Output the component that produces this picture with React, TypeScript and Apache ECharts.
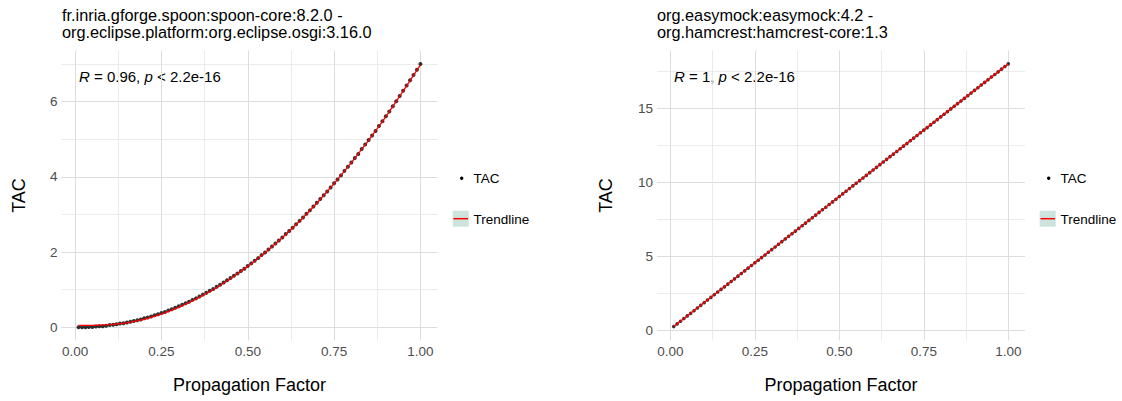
import { useEffect, useRef } from "react";
import * as echarts from "echarts";

// Propagation factor sampled for every dependency pair
const propagation = [
  0.01, 0.02, 0.03, 0.04, 0.05, 0.06, 0.07, 0.08, 0.09, 0.1,
  0.11, 0.12, 0.13, 0.14, 0.15, 0.16, 0.17, 0.18, 0.19, 0.2,
  0.21, 0.22, 0.23, 0.24, 0.25, 0.26, 0.27, 0.28, 0.29, 0.3,
  0.31, 0.32, 0.33, 0.34, 0.35, 0.36, 0.37, 0.38, 0.39, 0.4,
  0.41, 0.42, 0.43, 0.44, 0.45, 0.46, 0.47, 0.48, 0.49, 0.5,
  0.51, 0.52, 0.53, 0.54, 0.55, 0.56, 0.57, 0.58, 0.59, 0.6,
  0.61, 0.62, 0.63, 0.64, 0.65, 0.66, 0.67, 0.68, 0.69, 0.7,
  0.71, 0.72, 0.73, 0.74, 0.75, 0.76, 0.77, 0.78, 0.79, 0.8,
  0.81, 0.82, 0.83, 0.84, 0.85, 0.86, 0.87, 0.88, 0.89, 0.9,
  0.91, 0.92, 0.93, 0.94, 0.95, 0.96, 0.97, 0.98, 0.99, 1.0,
];

// TAC for spoon-core -> org.eclipse.osgi
const tacSpoon = [
  0.0, 0.0, 0.0, 0.01, 0.01, 0.02, 0.03, 0.03, 0.04, 0.06,
  0.07, 0.08, 0.1, 0.11, 0.13, 0.15, 0.17, 0.19, 0.21, 0.24,
  0.26, 0.29, 0.32, 0.35, 0.38, 0.41, 0.45, 0.48, 0.52, 0.56,
  0.6, 0.64, 0.68, 0.73, 0.77, 0.82, 0.87, 0.92, 0.97, 1.02,
  1.08, 1.13, 1.19, 1.25, 1.31, 1.37, 1.43, 1.5, 1.56, 1.63,
  1.7, 1.77, 1.84, 1.92, 1.99, 2.07, 2.15, 2.23, 2.31, 2.39,
  2.48, 2.56, 2.65, 2.74, 2.83, 2.92, 3.02, 3.11, 3.21, 3.31,
  3.41, 3.51, 3.61, 3.72, 3.83, 3.93, 4.04, 4.16, 4.27, 4.38,
  4.5, 4.61, 4.74, 4.86, 4.98, 5.1, 5.22, 5.35, 5.48, 5.61,
  5.74, 5.88, 6.01, 6.15, 6.29, 6.43, 6.57, 6.71, 6.85, 7.0,
];

// TAC for easymock -> hamcrest-core
const tacEasymock = [
  0.28, 0.46, 0.64, 0.82, 1.0, 1.17, 1.35, 1.53, 1.71, 1.89,
  2.07, 2.25, 2.43, 2.61, 2.79, 2.96, 3.14, 3.32, 3.5, 3.68,
  3.86, 4.04, 4.22, 4.4, 4.58, 4.75, 4.93, 5.11, 5.29, 5.47,
  5.65, 5.83, 6.01, 6.19, 6.37, 6.54, 6.72, 6.9, 7.08, 7.26,
  7.44, 7.62, 7.8, 7.98, 8.16, 8.33, 8.51, 8.69, 8.87, 9.05,
  9.23, 9.41, 9.59, 9.77, 9.95, 10.12, 10.3, 10.48, 10.66, 10.84,
  11.02, 11.2, 11.38, 11.56, 11.74, 11.91, 12.09, 12.27, 12.45, 12.63,
  12.81, 12.99, 13.17, 13.35, 13.53, 13.7, 13.88, 14.06, 14.24, 14.42,
  14.6, 14.78, 14.96, 15.14, 15.32, 15.49, 15.67, 15.85, 16.03, 16.21,
  16.39, 16.57, 16.75, 16.93, 17.11, 17.28, 17.46, 17.64, 17.82, 18.0,
];

// Fitted trendlines
const trendSpoonX = [
  0.01, 0.05, 0.1, 0.15, 0.2, 0.25, 0.3, 0.35, 0.4, 0.45, 0.5,
  0.55, 0.6, 0.65, 0.7, 0.75, 0.8, 0.85, 0.9, 0.95, 1.0,
];
const trendSpoon = [
  0.05, 0.05, 0.07, 0.12, 0.21, 0.35, 0.53, 0.75, 1.0, 1.29, 1.62,
  1.98, 2.38, 2.82, 3.3, 3.82, 4.38, 4.97, 5.6, 6.28, 6.98,
];
const trendEasymockX = [0.01, 0.25, 0.5, 0.75, 1.0];
const trendEasymock = [0.28, 4.58, 9.05, 13.53, 18.0];

// Axis breaks
const xMajor = [0, 0.25, 0.5, 0.75, 1];
const xMinor = [0.125, 0.375, 0.625, 0.875];
const ySpoonMajor = [0, 2, 4, 6];
const ySpoonMinor = [1, 3, 5, 7];
const yEasymockMajor = [0, 5, 10, 15];
const yEasymockMinor = [2.5, 7.5, 12.5, 17.5];

const titles = [
  "fr.inria.gforge.spoon:spoon-core:8.2.0 -\norg.eclipse.platform:org.eclipse.osgi:3.16.0",
  "org.easymock:easymock:4.2 -\norg.hamcrest:hamcrest-core:1.3",
];
const correlations = ["0.96", "1"];
const pValue = "2.2e-16";

const FONT = "'Liberation Sans', Arial, Helvetica, sans-serif";
const GRID_MAJOR = "#dddddd";
const GRID_MINOR = "#e6e6e6";
const TICK_COLOR = "#4d4d4d";

const zip = (xs: number[], ys: number[]) => xs.map((x, i) => [x, ys[i]]);

function xAxis(gridIndex: number, major: boolean) {
  return {
    type: "value",
    gridIndex,
    min: -0.0395,
    max: 1.0495,
    position: "bottom",
    axisLine: { show: false },
    axisTick: { show: false, customValues: major ? xMajor : xMinor },
    axisLabel: major
      ? {
          show: true,
          customValues: xMajor,
          formatter: (v: number) => v.toFixed(2),
          color: TICK_COLOR,
          fontSize: 13.5,
          fontFamily: FONT,
          margin: 4,
        }
      : { show: false },
    splitLine: {
      show: true,
      lineStyle: { color: major ? GRID_MAJOR : GRID_MINOR, width: major ? 1 : 0.8 },
    },
  };
}

function yAxis(gridIndex: number, min: number, max: number, ticks: number[], major: boolean) {
  return {
    type: "value",
    gridIndex,
    min,
    max,
    position: "left",
    axisLine: { show: false },
    axisTick: { show: false, customValues: ticks },
    axisLabel: major
      ? {
          show: true,
          customValues: ticks,
          color: TICK_COLOR,
          fontSize: 13.5,
          fontFamily: FONT,
          margin: 4,
        }
      : { show: false },
    splitLine: {
      show: true,
      lineStyle: { color: major ? GRID_MAJOR : GRID_MINOR, width: major ? 1 : 0.8 },
    },
  };
}

function text(x: number, y: number, str: string, size: number, extra: any = {}) {
  return {
    type: "text",
    x,
    y,
    silent: true,
    ...extra,
    style: {
      text: str,
      fontSize: size,
      fontFamily: FONT,
      fill: "#000",
      align: "left",
      verticalAlign: "middle",
      textAlign: "left",
      textVerticalAlign: "middle",
      ...(extra.style || {}),
    },
  };
}

function legend(dx: number) {
  return [
    { type: "circle", silent: true, shape: { cx: 461.7 + dx, cy: 178.3, r: 1.7 }, style: { fill: "#000" } },
    text(473.5 + dx, 178.5, "TAC", 13.5),
    { type: "rect", silent: true, shape: { x: 452.7 + dx, y: 210.7, width: 16, height: 16 }, style: { fill: "#cde3dd" } },
    {
      type: "line",
      silent: true,
      shape: { x1: 453.5 + dx, y1: 218.7, x2: 468 + dx, y2: 218.7 },
      style: { stroke: "#ff0000", lineWidth: 1.5 },
    },
    text(473.5 + dx, 219, "Trendline", 13.5),
  ];
}

function annotation(x: number, r: string) {
  return {
    type: "text",
    x,
    y: 76.7,
    silent: true,
    style: {
      text: `{i|R} = ${r}, {i|p} < ${pValue}`,
      fontSize: 15,
      fontFamily: FONT,
      fill: "#000",
      align: "left",
      verticalAlign: "middle",
      textAlign: "left",
      textVerticalAlign: "middle",
      rich: { i: { fontStyle: "italic", fontSize: 15, fontFamily: FONT, fill: "#000" } },
    },
  };
}

export default function App() {
  const ref = useRef<HTMLDivElement>(null);

  useEffect(() => {
    if (!ref.current) return;
    const chart = echarts.init(ref.current, undefined, { renderer: "svg" });
    const option: any = {
      animation: false,
      backgroundColor: "#ffffff",
      grid: [
        { left: 61.5, top: 50.5, width: 376, height: 290 },
        { left: 657, top: 50.5, width: 368, height: 290 },
      ],
      xAxis: [xAxis(0, true), xAxis(0, false), xAxis(1, true), xAxis(1, false)],
      yAxis: [
        yAxis(0, -0.35, 7.36, ySpoonMajor, true),
        yAxis(0, -0.35, 7.36, ySpoonMinor, false),
        yAxis(1, -0.66, 18.9, yEasymockMajor, true),
        yAxis(1, -0.66, 18.9, yEasymockMinor, false),
      ],
      series: [
        {
          name: "TAC",
          type: "scatter",
          xAxisIndex: 0,
          yAxisIndex: 0,
          data: zip(propagation, tacSpoon),
          symbolSize: 4,
          itemStyle: { color: "#000000" },
          z: 2,
          silent: true,
        },
        {
          name: "Trendline",
          type: "line",
          xAxisIndex: 0,
          yAxisIndex: 0,
          data: zip(trendSpoonX, trendSpoon),
          showSymbol: false,
          lineStyle: { color: "#ff0000", width: 1.3 },
          z: 3,
          silent: true,
        },
        {
          name: "TAC",
          type: "scatter",
          xAxisIndex: 2,
          yAxisIndex: 2,
          data: zip(propagation, tacEasymock),
          symbolSize: 3.6,
          itemStyle: { color: "#000000" },
          z: 2,
          silent: true,
        },
        {
          name: "Trendline",
          type: "line",
          xAxisIndex: 2,
          yAxisIndex: 2,
          data: zip(trendEasymockX, trendEasymock),
          showSymbol: false,
          lineStyle: { color: "#ff0000", width: 1.4 },
          z: 3,
          silent: true,
        },
      ],
      graphic: {
        elements: [
          text(62, 6.5, titles[0], 16.3, { style: { verticalAlign: "top", textVerticalAlign: "top", lineHeight: 17 } }),
          text(657, 6.5, titles[1], 16.3, { style: { verticalAlign: "top", textVerticalAlign: "top", lineHeight: 17 } }),
          annotation(79, correlations[0]),
          annotation(674, correlations[1]),
          text(249.5, 385, "Propagation Factor", 18, { style: { align: "center", textAlign: "center" } }),
          text(841, 385, "Propagation Factor", 18, { style: { align: "center", textAlign: "center" } }),
          text(18.5, 195.5, "TAC", 18, { rotation: Math.PI / 2, style: { align: "center", textAlign: "center" } }),
          text(606, 195.5, "TAC", 18, { rotation: Math.PI / 2, style: { align: "center", textAlign: "center" } }),
          ...legend(0),
          ...legend(587),
        ],
      },
    };
    chart.setOption(option);
    return () => chart.dispose();
  }, []);

  return (
    <div
      ref={ref}
      style={{ position: "absolute", left: 0, top: 0, width: 1122, height: 401, background: "#fff" }}
    />
  );
}
